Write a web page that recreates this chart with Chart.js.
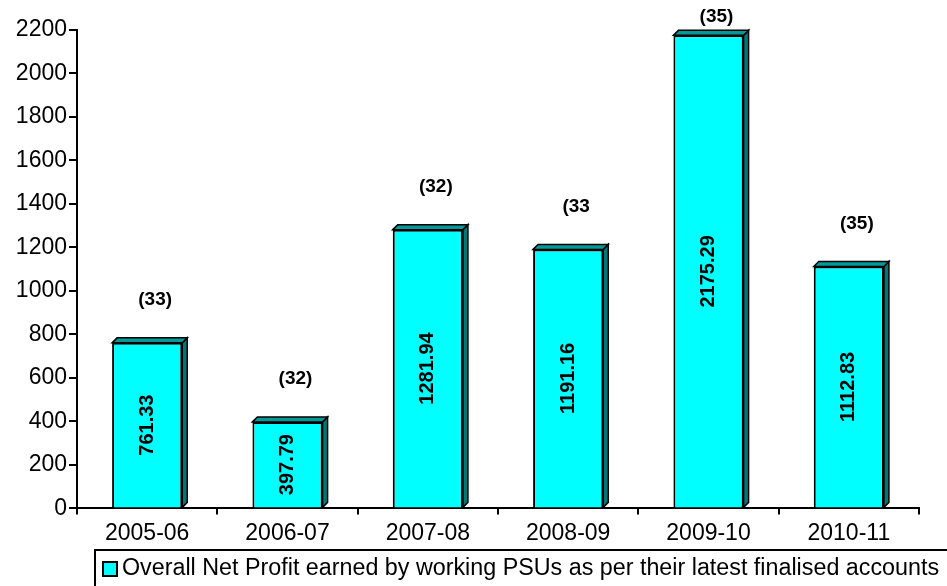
<!DOCTYPE html>
<html>
<head>
<meta charset="utf-8">
<script src="https://cdn.jsdelivr.net/npm/chart.js@4.4.0/dist/chart.umd.min.js"></script>
<style>
  body { margin: 0; background: #fff; }
  #wrap { width: 947px; height: 586px; }
</style>
</head>
<body>
<div id="wrap"><canvas id="myChart" width="947" height="586"></canvas></div>
<script>
// data
const years = ['2005-06', '2006-07', '2007-08', '2008-09', '2009-10', '2010-11'];
const netProfit = [761.33, 397.79, 1281.94, 1191.16, 2175.29, 1112.83];
const psuCount = ['(33)', '(32)', '(32)', '(33', '(35)', '(35)'];
const yTicks = [0, 200, 400, 600, 800, 1000, 1200, 1400, 1600, 1800, 2000, 2200];
const seriesName = 'Overall Net Profit earned by working PSUs as per their latest finalised accounts';

const FONT = 'Liberation Sans, Arial, sans-serif';
const DEPTH = 5;

// fake 3D look: top face + dark side of each bar, then the labels and legend
const barExtras = {
    id: 'barExtras',
    afterDatasetsDraw(chart) {
        const ctx = chart.ctx;
        const meta = chart.getDatasetMeta(0);
        ctx.save();
        ctx.lineWidth = 1.5;
        ctx.strokeStyle = '#000';
        meta.data.forEach((bar, i) => {
            const x0 = bar.x - bar.width / 2;
            const x1 = bar.x + bar.width / 2;
            const top = bar.y;
            const bottom = bar.base;
            // side
            ctx.beginPath();
            ctx.moveTo(x1, top);
            ctx.lineTo(x1 + DEPTH, top - DEPTH);
            ctx.lineTo(x1 + DEPTH, bottom - DEPTH);
            ctx.lineTo(x1, bottom);
            ctx.closePath();
            ctx.fillStyle = '#007777';
            ctx.fill();
            ctx.stroke();
            // top
            ctx.beginPath();
            ctx.moveTo(x0, top);
            ctx.lineTo(x0 + DEPTH, top - DEPTH);
            ctx.lineTo(x1 + DEPTH, top - DEPTH);
            ctx.lineTo(x1, top);
            ctx.closePath();
            ctx.fillStyle = '#009999';
            ctx.fill();
            ctx.stroke();

            // value written up the bar
            ctx.save();
            ctx.translate(bar.x, (top + bottom) / 2);
            ctx.rotate(-Math.PI / 2);
            ctx.fillStyle = '#000';
            ctx.font = 'bold 20px ' + FONT;
            ctx.textAlign = 'center';
            ctx.textBaseline = 'middle';
            ctx.fillText(netProfit[i].toFixed(2), 0, 0);
            ctx.restore();

            // number of PSUs above the bar
            ctx.fillStyle = '#000';
            ctx.font = 'bold 19px ' + FONT;
            ctx.textAlign = 'center';
            ctx.textBaseline = 'middle';
            ctx.fillText(psuCount[i], bar.x + 8, Math.max(top - 43, 17));
        });
        ctx.restore();
    },
    afterDraw(chart) {
        // legend, boxed, under the axis
        const ctx = chart.ctx;
        const ds = chart.data.datasets[0];
        ctx.save();
        ctx.strokeStyle = '#000';
        ctx.lineWidth = 2;
        ctx.strokeRect(95, 550, 870, 60);
        ctx.fillStyle = ds.backgroundColor;
        ctx.fillRect(103, 562, 14, 14);
        ctx.strokeRect(103, 562, 14, 14);
        ctx.fillStyle = '#000';
        ctx.font = '23.3px ' + FONT;
        ctx.textAlign = 'left';
        ctx.textBaseline = 'middle';
        ctx.fillText(ds.label, 122, 569);
        ctx.restore();
    }
};

const ctx = document.getElementById('myChart').getContext('2d');
new Chart(ctx, {
    type: 'bar',
    data: {
        labels: years,
        datasets: [{
            label: seriesName,
            data: netProfit,
            backgroundColor: '#00ffff',
            borderColor: '#000',
            borderWidth: 2,
            borderSkipped: 'bottom',
            categoryPercentage: 1,
            barPercentage: 0.5
        }]
    },
    options: {
        responsive: false,
        devicePixelRatio: 1,
        animation: false,
        layout: { padding: { top: 30, right: 28, left: 0, bottom: 34 } },
        plugins: {
            tooltip: { enabled: false },
            legend: { display: false }
        },
        scales: {
            x: {
                border: { color: '#000', width: 2 },
                grid: { drawOnChartArea: false, color: '#000', lineWidth: 2, tickLength: 6 },
                ticks: { color: '#000', font: { family: FONT, size: 23 }, padding: 5 }
            },
            y: {
                min: 0,
                max: 2200,
                afterFit(scale) { scale.width = 77; },
                afterBuildTicks(scale) { scale.ticks = yTicks.map(v => ({ value: v })); },
                border: { color: '#000', width: 2 },
                grid: { drawOnChartArea: false, color: '#000', lineWidth: 2, tickLength: 8 },
                ticks: {
                    color: '#000',
                    font: { family: FONT, size: 23 },
                    padding: 2,
                    callback: v => String(v)
                }
            }
        }
    },
    plugins: [barExtras]
});
</script>
</body>
</html>
